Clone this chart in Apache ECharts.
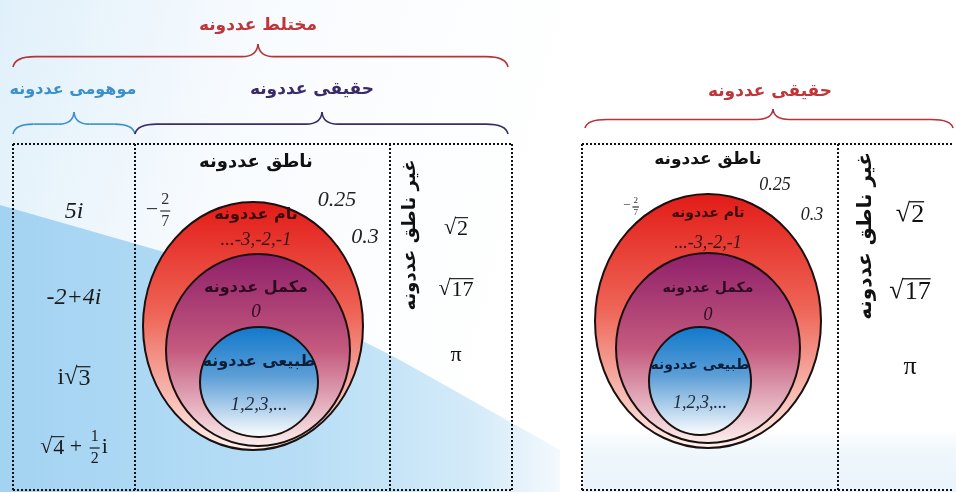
<!DOCTYPE html>
<html>
<head>
<meta charset="utf-8">
<script src="https://cdn.jsdelivr.net/npm/echarts@6/dist/echarts.min.js"></script>
<style>
  html, body { margin: 0; padding: 0; background: #fff; }
  #main { width: 956px; height: 492px; }
</style>
</head>
<body>
<div id="main"></div>
<script>
// set names (Pashto)
const topSets = ['مختلط عددونه', 'موهومی عددونه', 'حقیقی عددونه'];
const nestedSets = ['ناطق عددونه', 'تام عددونه', 'مکمل عددونه', 'طبیعی عددونه'];
const irrationalName = 'غیر ناطق عددونه';
// examples in each set
const integerExamples = ['...-3,-2,-1', '0', '1,2,3,...'];
const rationalDecimals = ['0.25', '0.3'];
const rationalFraction = ['2', '7'];
const irrationalRadicands = ['2', '17'];
const irrationalConst = 'π';
const complexExamples = ['5i', '-2+4i'];

const chart = echarts.init(document.getElementById('main'), null, { renderer: 'canvas' });

const ARAB = '"DejaVu Sans", "Noto Sans", sans-serif';
const SERIF = '"Liberation Serif", "DejaVu Serif", serif';

const mctx = document.createElement('canvas').getContext('2d');
function measure(s, font) {
    mctx.font = font;
    return mctx.measureText(s).width;
}

function txt(x, y, s, font, color, extra) {
    return Object.assign({
        type: 'text', x: x, y: y,
        style: { text: s, font: font, fill: color, align: 'center', verticalAlign: 'middle' }
    }, extra || {});
}

// lay out a little math expression, centred on (cx, cy)
function mathRow(cx, cy, pieces, size, color) {
    const els = [];
    const widths = pieces.map(p => {
        const f = (p.italic ? 'italic ' : '') + size + 'px ' + SERIF;
        if (p.sqrt) return measure('√', size + 'px ' + SERIF) + measure(p.sqrt, f) + 1;
        if (p.frac) {
            const ff = Math.round(size * 0.72) + 'px ' + SERIF;
            return Math.max(measure(p.frac[0], ff), measure(p.frac[1], ff)) + 6;
        }
        return measure(p.t, f);
    });
    const total = widths.reduce((a, b) => a + b, 0);
    let x = cx - total / 2;
    pieces.forEach((p, i) => {
        const f = (p.italic ? 'italic ' : '') + size + 'px ' + SERIF;
        if (p.sqrt) {
            const ws = measure('√', size + 'px ' + SERIF);
            els.push({ type: 'text', x: x, y: cy, style: { text: '√', font: size + 'px ' + SERIF, fill: color, align: 'left', verticalAlign: 'middle' } });
            els.push({ type: 'text', x: x + ws + 1, y: cy + 1, style: { text: p.sqrt, font: f, fill: color, align: 'left', verticalAlign: 'middle' } });
            els.push({ type: 'line', shape: { x1: x + ws - 1, y1: cy - size * 0.47, x2: x + widths[i], y2: cy - size * 0.47 }, style: { stroke: color, lineWidth: Math.max(1, size / 20) } });
        } else if (p.frac) {
            const fs = Math.round(size * 0.72);
            const ff = fs + 'px ' + SERIF;
            const mid = x + widths[i] / 2;
            els.push(txt(mid, cy - fs * 0.62, p.frac[0], ff, color));
            els.push(txt(mid, cy + fs * 0.72, p.frac[1], ff, color));
            els.push({ type: 'line', shape: { x1: x + 2, y1: cy + 1, x2: x + widths[i] - 2, y2: cy + 1 }, style: { stroke: color, lineWidth: 1.2 } });
        } else {
            els.push({ type: 'text', x: x, y: cy, style: { text: p.t, font: f, fill: color, align: 'left', verticalAlign: 'middle' } });
        }
        x += widths[i];
    });
    return els;
}

// curly brace opening downward
function brace(x1, x2, yb, h, tipX, color) {
    const ym = yb - h * 0.45, yt = yb - h;
    const r = Math.min(22, (x2 - x1) / 6), rt = Math.min(16, (x2 - x1) / 8);
    const s = { stroke: color, lineWidth: 1.6, fill: null };
    return [
        { type: 'bezierCurve', shape: { x1: x1, y1: yb, cpx1: x1 + 2, cpy1: ym, x2: x1 + r, y2: ym }, style: s },
        { type: 'line', shape: { x1: x1 + r, y1: ym, x2: tipX - rt, y2: ym }, style: s },
        { type: 'bezierCurve', shape: { x1: tipX - rt, y1: ym, cpx1: tipX - 1, cpy1: ym, x2: tipX, y2: yt }, style: s },
        { type: 'bezierCurve', shape: { x1: tipX, y1: yt, cpx1: tipX + 1, cpy1: ym, x2: tipX + rt, y2: ym }, style: s },
        { type: 'line', shape: { x1: tipX + rt, y1: ym, x2: x2 - r, y2: ym }, style: s },
        { type: 'bezierCurve', shape: { x1: x2 - r, y1: ym, cpx1: x2 - 2, cpy1: ym, x2: x2, y2: yb }, style: s }
    ];
}

function dotted(x1, y1, x2, y2) {
    return { type: 'line', shape: { x1: x1, y1: y1, x2: x2, y2: y2 }, style: { stroke: '#111', lineWidth: 2, lineDash: [2, 2] } };
}

function grad(stops) {
    return new echarts.graphic.LinearGradient(0, 0, 0, 1, stops.map(c => ({ offset: c[0], color: c[1] })));
}

// nested sets diagram (rational numbers)
function nested(L) {
    const els = [];
    const st = { stroke: '#1a1010', lineWidth: 2 };
    els.push({ type: 'ellipse', shape: L.outer, style: Object.assign({ fill: grad([[0, '#e21b17'], [0.45, '#ee6456'], [1, '#fdf3ee']]) }, st) });
    els.push({ type: 'ellipse', shape: L.middle, style: Object.assign({ fill: grad([[0, '#8e1f6a'], [0.5, '#c45a7e'], [1, '#fdf0ee']]) }, st) });
    els.push({ type: 'ellipse', shape: L.inner, style: Object.assign({ fill: grad([[0, '#0f78cc'], [0.45, '#5c9ed6'], [1, '#ffffff']]) }, st) });
    const af = 'bold ' + L.fs + 'px ' + ARAB;
    const nf = 'italic ' + L.nfs + 'px ' + SERIF;
    els.push(txt(L.cx, L.titleY, nestedSets[0], 'bold ' + L.tfs + 'px ' + ARAB, '#111'));
    els.push(txt(L.cx, L.lab[0], nestedSets[1], af, '#3a0c0c'));
    els.push(txt(L.cx, L.lab[1], integerExamples[0], nf, '#3a1212'));
    els.push(txt(L.cx, L.lab[2], nestedSets[2], af, '#2e0a22'));
    els.push(txt(L.cx, L.lab[3], integerExamples[1], nf, '#2e0a22'));
    els.push(txt(L.innerCx, L.lab[4], nestedSets[3], af, '#0b1f3a'));
    els.push(txt(L.innerCx, L.lab[5], integerExamples[2], nf, '#1d2a3a'));
    els.push(txt(L.dec0[0], L.dec0[1], rationalDecimals[0], 'italic ' + L.dfs + 'px ' + SERIF, '#222'));
    els.push(txt(L.dec1[0], L.dec1[1], rationalDecimals[1], 'italic ' + L.dfs + 'px ' + SERIF, '#222'));
    els.push.apply(els, mathRow(L.frac[0], L.frac[1], [{ t: '−' }, { frac: rationalFraction }], L.frs, '#333'));
    return els;
}

function irrational(x, yv, mx, ys, size, vfs) {
    const els = [];
    els.push(txt(x, yv, irrationalName, 'bold ' + vfs + 'px ' + ARAB, '#111', { rotation: Math.PI / 2 }));
    els.push.apply(els, mathRow(mx, ys[0], [{ sqrt: irrationalRadicands[0] }], size, '#111'));
    els.push.apply(els, mathRow(mx, ys[1], [{ sqrt: irrationalRadicands[1] }], size, '#111'));
    els.push(txt(mx, ys[2], irrationalConst, size + 'px ' + SERIF, '#111'));
    return els;
}

const g = [];

// background
g.push({ type: 'rect', shape: { x: 0, y: 0, width: 956, height: 492 }, style: { fill: '#ffffff' } });
g.push({ type: 'rect', shape: { x: 0, y: 0, width: 560, height: 492 },
    style: { fill: new echarts.graphic.LinearGradient(0, 0, 1, 0.3, [{ offset: 0, color: '#e0f0fa' }, { offset: 0.45, color: '#f8fbfe' }, { offset: 1, color: '#ffffff' }]) } });
g.push({ type: 'polygon', shape: { points: [[0, 205], [220, 268], [400, 360], [560, 450], [560, 492], [0, 492]] },
    style: { fill: new echarts.graphic.LinearGradient(0, 0, 1, 0, [{ offset: 0, color: '#a3d3f2' }, { offset: 0.55, color: '#b8def6' }, { offset: 0.85, color: '#d4ebf9' }, { offset: 1, color: '#f4f9fd' }]) } });
g.push({ type: 'rect', shape: { x: 583, y: 430, width: 373, height: 62 },
    style: { fill: new echarts.graphic.LinearGradient(0, 0, 0, 1, [{ offset: 0, color: 'rgba(233,244,251,0)' }, { offset: 0.4, color: '#eff7fc' }, { offset: 1, color: '#eaf4fb' }]) } });

// braces + headings
g.push.apply(g, brace(13, 508, 67, 23, 258, '#b83238'));
g.push(txt(258, 26, topSets[0], 'bold 17px ' + ARAB, '#c0353a'));
g.push.apply(g, brace(13, 135, 134, 22, 74, '#3d8fcb'));
g.push(txt(73, 90, topSets[1], 'bold 16px ' + ARAB, '#3b8fcb'));
g.push.apply(g, brace(135, 508, 134, 22, 322, '#3a2c68'));
g.push(txt(312, 90, topSets[2], 'bold 17px ' + ARAB, '#3a2a6a'));
g.push.apply(g, brace(585, 953, 128, 19, 773, '#b83238'));
g.push(txt(770, 92, topSets[2], 'bold 17px ' + ARAB, '#c0353a'));

// left boxes
g.push(dotted(13, 144, 512, 144), dotted(13, 144, 13, 492), dotted(512, 144, 512, 492),
    dotted(135, 144, 135, 492), dotted(390, 144, 390, 492), dotted(13, 490, 512, 490));
// right boxes
g.push(dotted(582, 144, 952, 144), dotted(582, 144, 582, 492), dotted(838, 144, 838, 492), dotted(582, 490, 952, 490));

// complex column
g.push(txt(74, 212, complexExamples[0], 'italic 24px ' + SERIF, '#1a1a1a'));
g.push(txt(74, 298, complexExamples[1], 'italic 24px ' + SERIF, '#1a1a1a'));
g.push.apply(g, mathRow(74, 378, [{ t: 'i' }, { sqrt: '3' }], 24, '#1a1a1a'));
g.push.apply(g, mathRow(74, 447, [{ sqrt: '4' }, { t: ' + ' }, { frac: ['1', '2'] }, { t: 'i' }], 22, '#1a1a1a'));

// rational diagrams
g.push.apply(g, nested({
    cx: 256, innerCx: 259, titleY: 162, tfs: 18,
    outer: { cx: 253, cy: 326, rx: 110, ry: 124 },
    middle: { cx: 258, cy: 350, rx: 92, ry: 96 },
    inner: { cx: 259, cy: 382, rx: 59, ry: 55 },
    lab: [215, 240, 288, 312, 362, 405],
    fs: 16, nfs: 19, dfs: 22, frs: 22,
    dec0: [337, 200], dec1: [365, 237], frac: [159, 210]
}));
g.push.apply(g, nested({
    cx: 708, innerCx: 700, titleY: 160, tfs: 17,
    outer: { cx: 708, cy: 321, rx: 113, ry: 127 },
    middle: { cx: 708, cy: 348, rx: 92, ry: 95 },
    inner: { cx: 700, cy: 381, rx: 51, ry: 54 },
    lab: [213, 243, 288, 315, 365, 403],
    fs: 14, nfs: 18, dfs: 18, frs: 13,
    dec0: [775, 185], dec1: [812, 215], frac: [632, 206]
}));

// irrational columns
g.push.apply(g, irrational(410, 235, 456, [228, 289, 355], 22, 18));
g.push.apply(g, irrational(866, 236, 910, [214, 291, 367], 26, 20));

chart.setOption({
    animation: false,
    graphic: { elements: g }
});
</script>
</body>
</html>
